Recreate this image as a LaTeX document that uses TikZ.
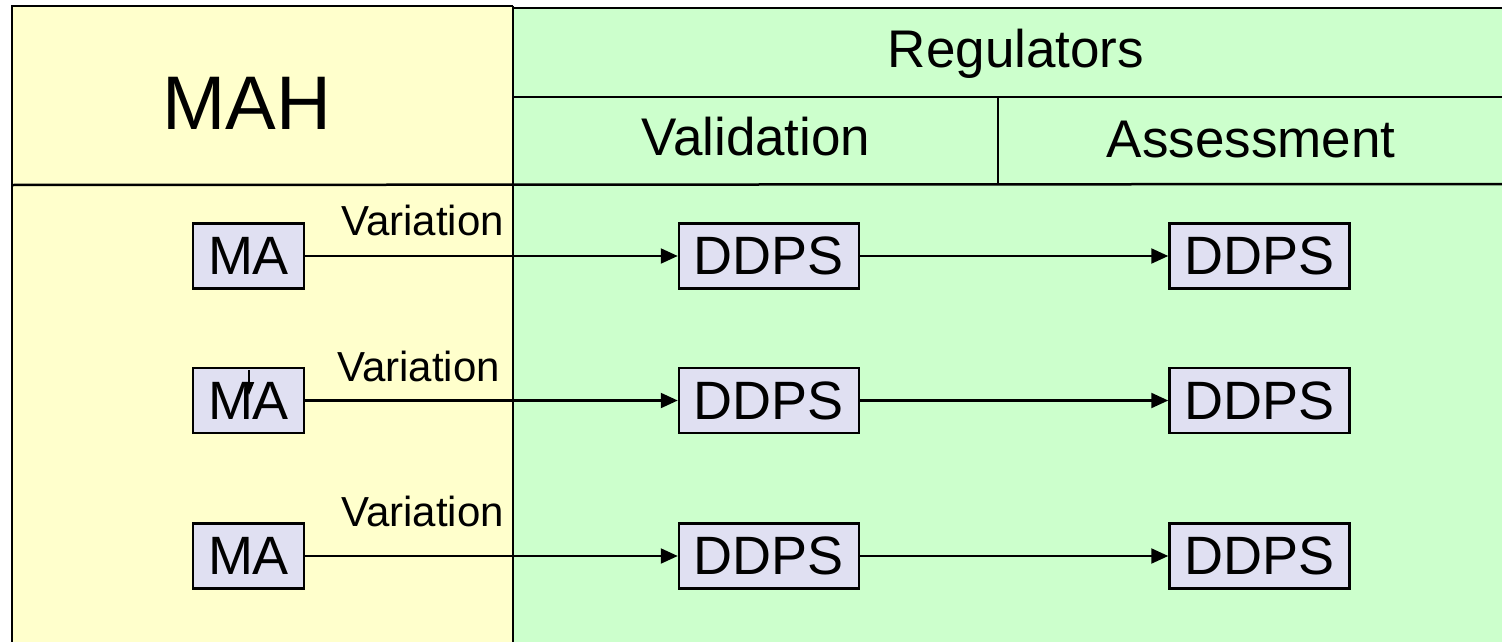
\documentclass[tikz,border=0pt]{standalone}
\usepackage{fontspec}
\setmainfont{Liberation Sans}
\usetikzlibrary{arrows.meta}
\definecolor{mahyellow}{HTML}{FFFFCC}
\definecolor{reggreen}{HTML}{CCFFCC}
\definecolor{boxfill}{HTML}{E0E0F2}
\tikzset{
  rule/.style={line width=2.5pt, black},
  docbox/.style={draw, line width=2.5pt, fill=boxfill, inner sep=0pt,
    minimum height=65pt, font=\fontsize{54}{60}\selectfont},
  mabox/.style={docbox, minimum width=111pt},
  ddpsbox/.style={docbox, minimum width=180pt},
  flow/.style={line width=2.2pt, -{Triangle[length=17pt,width=15pt]}},
  varlabel/.style={anchor=base east, inner sep=0pt, font=\fontsize{42}{48}\selectfont},
  headtext/.style={inner sep=0pt, font=\fontsize{53}{58}\selectfont},
}
\begin{document}
\begin{tikzpicture}[x=1pt, y=-1pt]
  \useasboundingbox (0,0) rectangle (1502,642);
  % panels
  \fill[mahyellow] (12,6) rectangle (513,642);
  \fill[reggreen] (513,8) rectangle (1502,642);
  % table rules
  \draw[rule] (12,642) -- (12,6) -- (513,6);
  \draw[rule] (513,8) -- (1502,8);
  \draw[rule] (513,6) -- (513,642);
  \draw[rule] (513,97) -- (1502,97);
  \draw[rule] (998,97) -- (998,184);
  \draw[rule] (12,185) -- (1502,184);
  % headers
  \node[inner sep=0pt, anchor=base, font=\fontsize{76}{82}\selectfont] (mah) at (247,129) {MAH};
  \node[headtext, anchor=base] (reg) at (1016,68) {Regulators};
  \node[headtext, anchor=base] (val) at (756,155) {Validation};
  \node[headtext, anchor=base] (ass) at (1251,157) {Assessment};
  % rows
  \foreach \r/\y/\vx/\vy in {1/256/504/235, 2/400.5/500/381, 3/556/504/526} {
    \node[mabox] (ma\r) at (248.5,\y) {MA};
    \node[ddpsbox] (dv\r) at (769,\y) {DDPS};
    \node[ddpsbox] (da\r) at (1259.5,\y) {DDPS};
    \node[varlabel] (var\r) at (\vx,\vy) {Variation};
    \draw[flow] (ma\r) -- (dv\r);
    \draw[flow] (dv\r) -- (da\r);
  }
  % small mark over the middle MA
  \coordinate (tickA) at (249,370);
  \coordinate (tickB) at (249,395);
  \draw[line width=2pt, -{Triangle[length=13pt,width=10pt]}] (tickA) -- (tickB);
\end{tikzpicture}
\end{document}
